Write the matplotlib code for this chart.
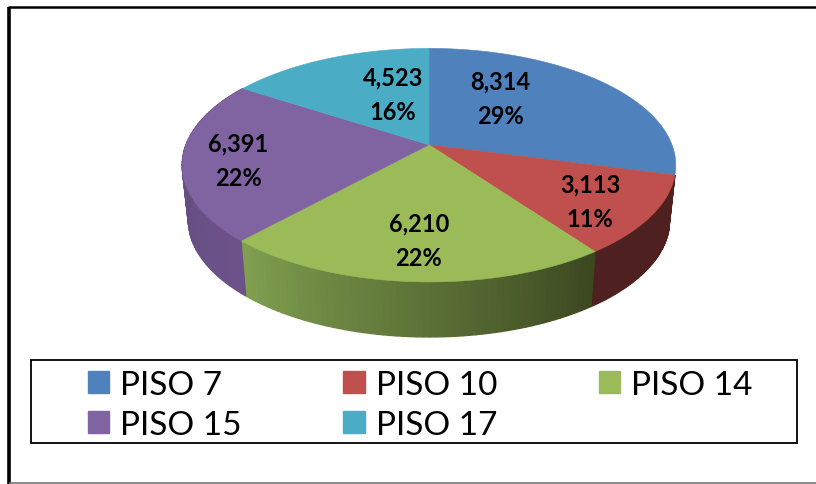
import matplotlib
matplotlib.use('Agg')
import matplotlib.pyplot as plt
from matplotlib.patches import Patch, Rectangle
from matplotlib.colors import to_rgb
import numpy as np

labels = ['PISO 7', 'PISO 10', 'PISO 14', 'PISO 15', 'PISO 17']
values = [8314, 3113, 6210, 6391, 4523]
colors = ['#4f81bd', '#c0504d', '#9bbb59', '#8064a2', '#4bacc6']
# side wall colours, start and end of each slice going clockwise (None = not visible)
side_start = [None, '#4f2020', '#3c4820', '#6c5289', None]
side_end = [None, '#4f2020', '#80a050', '#5f4a77', None]
label_pos = [(500, 99), (590, 202), (419, 241), (238, 161), (393, 95)]

cx, cy = 429, 145.8
k, c, w = 0.1745, 113.2, 243
depth, shrink = 55, 0.975


def top_rim(t):
    d = 1 + k * np.cos(t)
    return cx + w * np.sin(t) / d, cy - c * np.cos(t) / d


def low_rim(t):
    d = 1 + k * np.cos(t)
    return cx + shrink * w * np.sin(t) / d, cy + depth - c * np.cos(t) / d


plt.rcParams['font.family'] = ['Lato', 'DejaVu Sans']
fig = plt.figure(figsize=(8.16, 4.85), dpi=100)
ax = fig.add_axes([0, 0, 1, 1])
ax.set_xlim(0, 816)
ax.set_ylim(485, 0)
ax.axis('off')

edges = 2 * np.pi * np.concatenate([[0], np.cumsum(values)]) / sum(values)

# walls first, the top face goes over them
for i in range(len(values)):
    if side_start[i] is None:
        continue
    ts = np.linspace(edges[i], edges[i + 1], 60)
    c0, c1 = np.array(to_rgb(side_start[i])), np.array(to_rgb(side_end[i]))
    for j in range(len(ts) - 1):
        x0, y0 = top_rim(ts[j:j + 2])
        x1, y1 = low_rim(ts[j:j + 2])
        col = c0 + (c1 - c0) * j / (len(ts) - 2)
        ax.fill(np.r_[x0, x1[::-1]], np.r_[y0, y1[::-1]], color=col, lw=1.0)

for i in range(len(values)):
    ts = np.linspace(edges[i], edges[i + 1], 120)
    x, y = top_rim(ts)
    ax.fill(np.r_[cx, x], np.r_[cy, y], color=colors[i], lw=0.4)

total = sum(values)
for v, (px, py) in zip(values, label_pos):
    ax.text(px, py, f'{v:,}\n{round(100 * v / total)}%', ha='center', va='center',
            fontsize=17, fontweight='bold', color='black', linespacing=1.6)

# outer frame
ax.plot([9, 9], [8, 485], color='black', lw=2.6, solid_capstyle='butt')
ax.plot([8, 816], [8, 8], color='black', lw=1.8, solid_capstyle='butt')
ax.plot([9, 816], [484.3, 484.3], color='#777777', lw=1.2, solid_capstyle='butt')

# legend box
ax.add_patch(Rectangle((30.5, 360.5), 766, 83, fc='white', ec='black', lw=1.3))
order = [0, 3, 1, 4, 2]
handles = [Patch(color=colors[i], label=labels[i]) for i in order]
ax.legend(handles=handles, ncol=3, loc='upper left', bbox_to_anchor=(88, 371),
          bbox_transform=ax.transData, frameon=False, fontsize=24, borderpad=0,
          borderaxespad=0, handlelength=0.64, handleheight=0.64, handletextpad=0.33,
          columnspacing=3.05, labelspacing=0.3)

fig.savefig('out.png', dpi=100)
